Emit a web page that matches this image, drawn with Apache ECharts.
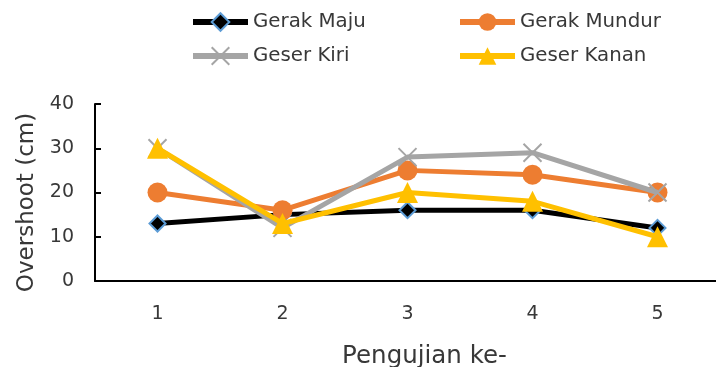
<!DOCTYPE html>
<html>
<head>
<meta charset="utf-8">
<script src="https://cdn.jsdelivr.net/npm/echarts@6/dist/echarts.min.js"></script>
<style>
  html, body { margin: 0; padding: 0; background: #fff; }
  #chart { width: 716px; height: 367px; }
</style>
</head>
<body>
<div id="chart"></div>
<script>
// Overshoot per trial for each movement
const categories = ['1', '2', '3', '4', '5'];
const gerakMaju = [13, 15, 16, 16, 12];
const gerakMundur = [20, 16, 25, 24, 20];
const geserKiri = [30, 12, 28, 29, 20];
const geserKanan = [30, 13, 20, 18, 10];
const yTicks = [0, 10, 20, 30, 40];

const FONT = 'DejaVu Sans';
const TEXT = '#383838';
const crossPath = 'path://M0,0 L10,10 M10,0 L0,10';

const chart = echarts.init(document.getElementById('chart'), null, { renderer: 'canvas' });

const legendCommon = {
  orient: 'vertical',
  top: 12,
  padding: 0,
  itemWidth: 55,
  itemHeight: 22,
  itemGap: 14,
  lineStyle: { width: 6 },
  textStyle: { fontFamily: FONT, fontSize: 19.8, color: TEXT },
  selectedMode: false
};

chart.setOption({
  animation: false,
  textStyle: { fontFamily: FONT },
  legend: [
    Object.assign({ left: 190, data: ['Gerak Maju', 'Geser Kiri'] }, legendCommon),
    Object.assign({ left: 457, data: ['Gerak Mundur', 'Geser Kanan'] }, legendCommon)
  ],
  grid: { left: 95, top: 104, width: 625, height: 177, containLabel: false, outerBoundsMode: 'none' },
  xAxis: {
    type: 'category',
    data: categories,
    boundaryGap: true,
    name: 'Pengujian ke-',
    nameLocation: 'middle',
    nameGap: 63,
    nameTextStyle: { fontFamily: FONT, fontSize: 24.5, color: TEXT, padding: [0, 0, 0, 34] },
    axisLine: { lineStyle: { color: '#000', width: 2 } },
    axisTick: { inside: true, length: 5, alignWithLabel: true, lineStyle: { color: '#000', width: 2 } },
    axisLabel: { fontFamily: FONT, fontSize: 19, color: TEXT, margin: 24 },
    splitLine: { show: false }
  },
  yAxis: {
    type: 'value',
    min: yTicks[0],
    max: yTicks[yTicks.length - 1],
    interval: 10,
    name: 'Overshoot (cm)',
    nameLocation: 'middle',
    nameRotate: 90,
    nameGap: 56,
    nameTextStyle: { fontFamily: FONT, fontSize: 23, color: TEXT, padding: [0, 20, 0, 0] },
    axisLine: { show: true, lineStyle: { color: '#000', width: 2 } },
    axisTick: { show: true, inside: true, length: 6, lineStyle: { color: '#000', width: 2 } },
    axisLabel: { fontFamily: FONT, fontSize: 19, color: TEXT, margin: 21 },
    splitLine: { show: false }
  },
  series: [
    {
      name: 'Gerak Maju',
      type: 'line',
      data: gerakMaju,
      z: 2,
      symbol: 'diamond',
      symbolSize: 16,
      lineStyle: { color: '#000', width: 5 },
      itemStyle: { color: '#000', borderColor: '#5B9BD5', borderWidth: 2 }
    },
    {
      name: 'Gerak Mundur',
      type: 'line',
      data: gerakMundur,
      z: 3,
      symbol: 'circle',
      symbolSize: 20,
      lineStyle: { color: '#ED7D31', width: 5 },
      itemStyle: { color: '#ED7D31', borderWidth: 0 }
    },
    {
      name: 'Geser Kiri',
      type: 'line',
      data: geserKiri,
      z: 4,
      symbol: crossPath,
      symbolSize: 18,
      lineStyle: { color: '#A5A5A5', width: 5 },
      itemStyle: { color: '#A5A5A5', borderColor: '#A5A5A5', borderWidth: 2 }
    },
    {
      name: 'Geser Kanan',
      type: 'line',
      data: geserKanan,
      z: 5,
      symbol: 'triangle',
      symbolSize: 21,
      lineStyle: { color: '#FFC000', width: 5 },
      itemStyle: { color: '#FFC000', borderWidth: 0 }
    }
  ]
});
</script>
</body>
</html>
